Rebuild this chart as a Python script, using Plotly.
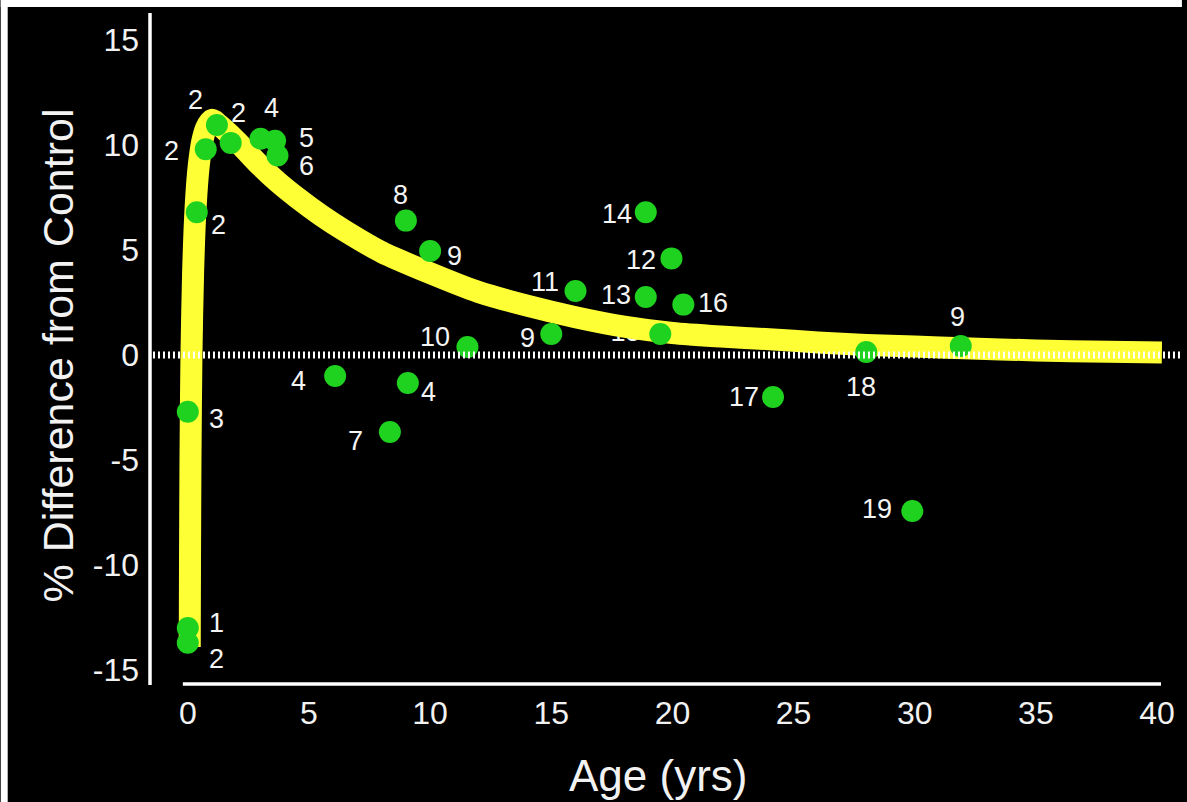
import plotly.graph_objects as go

# ---------------- data ----------------
age = [0.0, 0.0, 0.0, 0.37, 0.74, 1.2, 1.77, 3.0, 3.6, 3.7,
       6.08, 9.0, 10.0, 9.08, 8.34, 11.54, 15.0, 16.0, 18.9, 19.96,
       18.9, 20.45, 19.5, 24.15, 28.0, 31.9, 29.9]
diff = [-13.0, -13.7, -2.7, 6.8, 9.8, 10.95, 10.1, 10.3, 10.2, 9.5,
        -1.0, 6.4, 4.95, -1.33, -3.67, 0.38, 1.0, 3.05, 6.8, 4.6,
        2.76, 2.4, 1.0, -2.0, 0.14, 0.43, -7.43]
ref_labels = ["1", "2", "3", "2", "2", "2", "2", "4", "5", "6",
              "4", "8", "9", "4", "7", "10", "9", "11", "14", "12",
              "13", "16", "15", "17", "18", "9", "19"]

curve_age = [0.08, 0.09, 0.11, 0.15, 0.22, 0.32, 0.45, 0.60, 0.75, 0.90,
             1.00, 1.10, 1.25, 1.50, 2.0, 2.5, 3.0, 3.7, 4.5, 5.5,
             6.5, 8.0, 10.0, 12.0, 14.0, 16.0, 18.0, 20.0, 22.0, 24.0,
             26.0, 28.0, 30.0, 32.0, 35.0, 38.0, 40.2]
curve_diff = [-13.9, -10.0, -5.0, 0.0, 4.0, 7.0, 9.0, 10.2, 10.8, 11.1,
              11.2, 11.15, 11.0, 10.75, 10.2, 9.6, 9.0, 8.25, 7.5, 6.65,
              5.9, 4.9, 3.9, 3.0, 2.35, 1.8, 1.35, 1.05, 0.88, 0.75,
              0.6, 0.48, 0.4, 0.32, 0.22, 0.15, 0.12]

x_ticks = [0, 5, 10, 15, 20, 25, 30, 35, 40]
x_ticktext = ["0", "5", "10", "15", "20", "25", "30", "35", "40"]
y_ticks = [-15, -10, -5, 0, 5, 10, 15]
y_ticktext = ["-15", "-10", "-5", "0", "5", "10", "15"]

# ---------------- styles ----------------
# label offsets from the point, in screen pixels (dx right, dy up)
label_dx = [29, 29, 29, 22, -34, -21, 8, 11, 31, 29,
            -37, -5, 24, 21, -34, -32, -24, -31, -29, -30,
            -30, 30, -30, -29, -5, -3, -35]
label_dy = [5, -16, -7, -13, -2, 25, 30, 31, 3, -10,
            -5, 26, -5, -9, -9, 10, -4, 9, -2, -2,
            2, 2, -7, 0, -35, 29, 2]
under_curve = {22}  # label drawn beneath the fitted curve

GREEN = "#1fd21f"
YELLOW = "#ffff36"
W, H = 1187, 802
L, R, T, B = 150, 1170, 13, 685
x_range = [(L - 188) / 24.35, (R - 188) / 24.35]
y_range = [(355 - B) / 21.0, (355 - T) / 21.0]


def px(xp):
    return (xp - L) / (R - L)


def py(yp):
    return (B - yp) / (B - T)


label_font = dict(family="Liberation Sans, Arial", size=27, color="#f4f4f4")

fig = go.Figure()

# labels hidden under the curve
hid = sorted(under_curve)
fig.add_trace(go.Scatter(
    x=[age[i] for i in hid], y=[diff[i] for i in hid], mode="markers+text",
    text=[ref_labels[i] for i in hid], textposition="middle left",
    marker=dict(size=30, color="rgba(0,0,0,0)"),
    textfont=label_font, hoverinfo="skip", showlegend=False,
))

# fitted curve
fig.add_trace(go.Scatter(
    x=curve_age, y=curve_diff, mode="lines",
    line=dict(color=YELLOW, width=22, shape="spline", smoothing=0.7),
    hoverinfo="skip", showlegend=False,
))

# data points
fig.add_trace(go.Scatter(
    x=age, y=diff, mode="markers",
    marker=dict(size=22, color=GREEN, line=dict(width=0)),
    showlegend=False,
))

annotations = []
for i, (xa, ya, t) in enumerate(zip(age, diff, ref_labels)):
    if i in under_curve:
        continue
    annotations.append(dict(x=xa, y=ya, xref="x", yref="y", text=t, showarrow=False,
                            xshift=label_dx[i], yshift=label_dy[i],
                            xanchor="center", yanchor="middle", font=label_font))

shapes = [
    # white frame strips (top and left)
    dict(type="rect", xref="paper", yref="paper", x0=px(0), x1=px(W), y0=py(7), y1=py(0),
         fillcolor="white", line=dict(width=0), layer="above"),
    dict(type="rect", xref="paper", yref="paper", x0=px(0), x1=px(7), y0=py(H), y1=py(0),
         fillcolor="white", line=dict(width=0), layer="above"),
    # y axis line
    dict(type="line", xref="paper", yref="paper", x0=0, x1=0, y0=0, y1=1,
         line=dict(color="white", width=3.5)),
    # x axis line
    dict(type="line", xref="paper", yref="paper", x0=px(183), x1=px(1166), y0=py(684), y1=py(684),
         line=dict(color="white", width=3.5)),
    # dotted zero line
    dict(type="line", xref="paper", yref="y", x0=px(153), x1=px(W), y0=0, y1=0,
         line=dict(color="white", width=7, dash="2px,3px"), layer="above"),
]

tick_font = dict(family="Liberation Sans, Arial", size=32, color="#f2f2f2")
title_font = dict(family="Liberation Sans, Arial", size=44, color="#f2f2f2")

annotations += [
    dict(text="Age (yrs)", xref="paper", yref="paper", x=px(660), y=py(775),
         xanchor="center", yanchor="middle", showarrow=False, font=title_font),
    dict(text="% Difference from Control", xref="paper", yref="paper",
         x=px(58), y=py(355), xanchor="center", yanchor="middle", textangle=-90,
         showarrow=False, font=dict(title_font, size=43)),
]

fig.update_layout(
    width=W, height=H,
    margin=dict(l=L, r=W - R, t=T, b=H - B, pad=0),
    paper_bgcolor="black", plot_bgcolor="black",
    xaxis=dict(range=x_range, tickvals=x_ticks, ticktext=x_ticktext, showgrid=False,
               zeroline=False, showline=False, ticks="", tickfont=tick_font,
               ticklabelstandoff=6, fixedrange=True),
    yaxis=dict(range=y_range, tickvals=y_ticks, ticktext=y_ticktext, showgrid=False,
               zeroline=False, showline=False, ticks="", tickfont=tick_font,
               ticklabelstandoff=10, fixedrange=True),
    shapes=shapes,
    annotations=annotations,
    showlegend=False,
)

fig.write_html("out.html")
